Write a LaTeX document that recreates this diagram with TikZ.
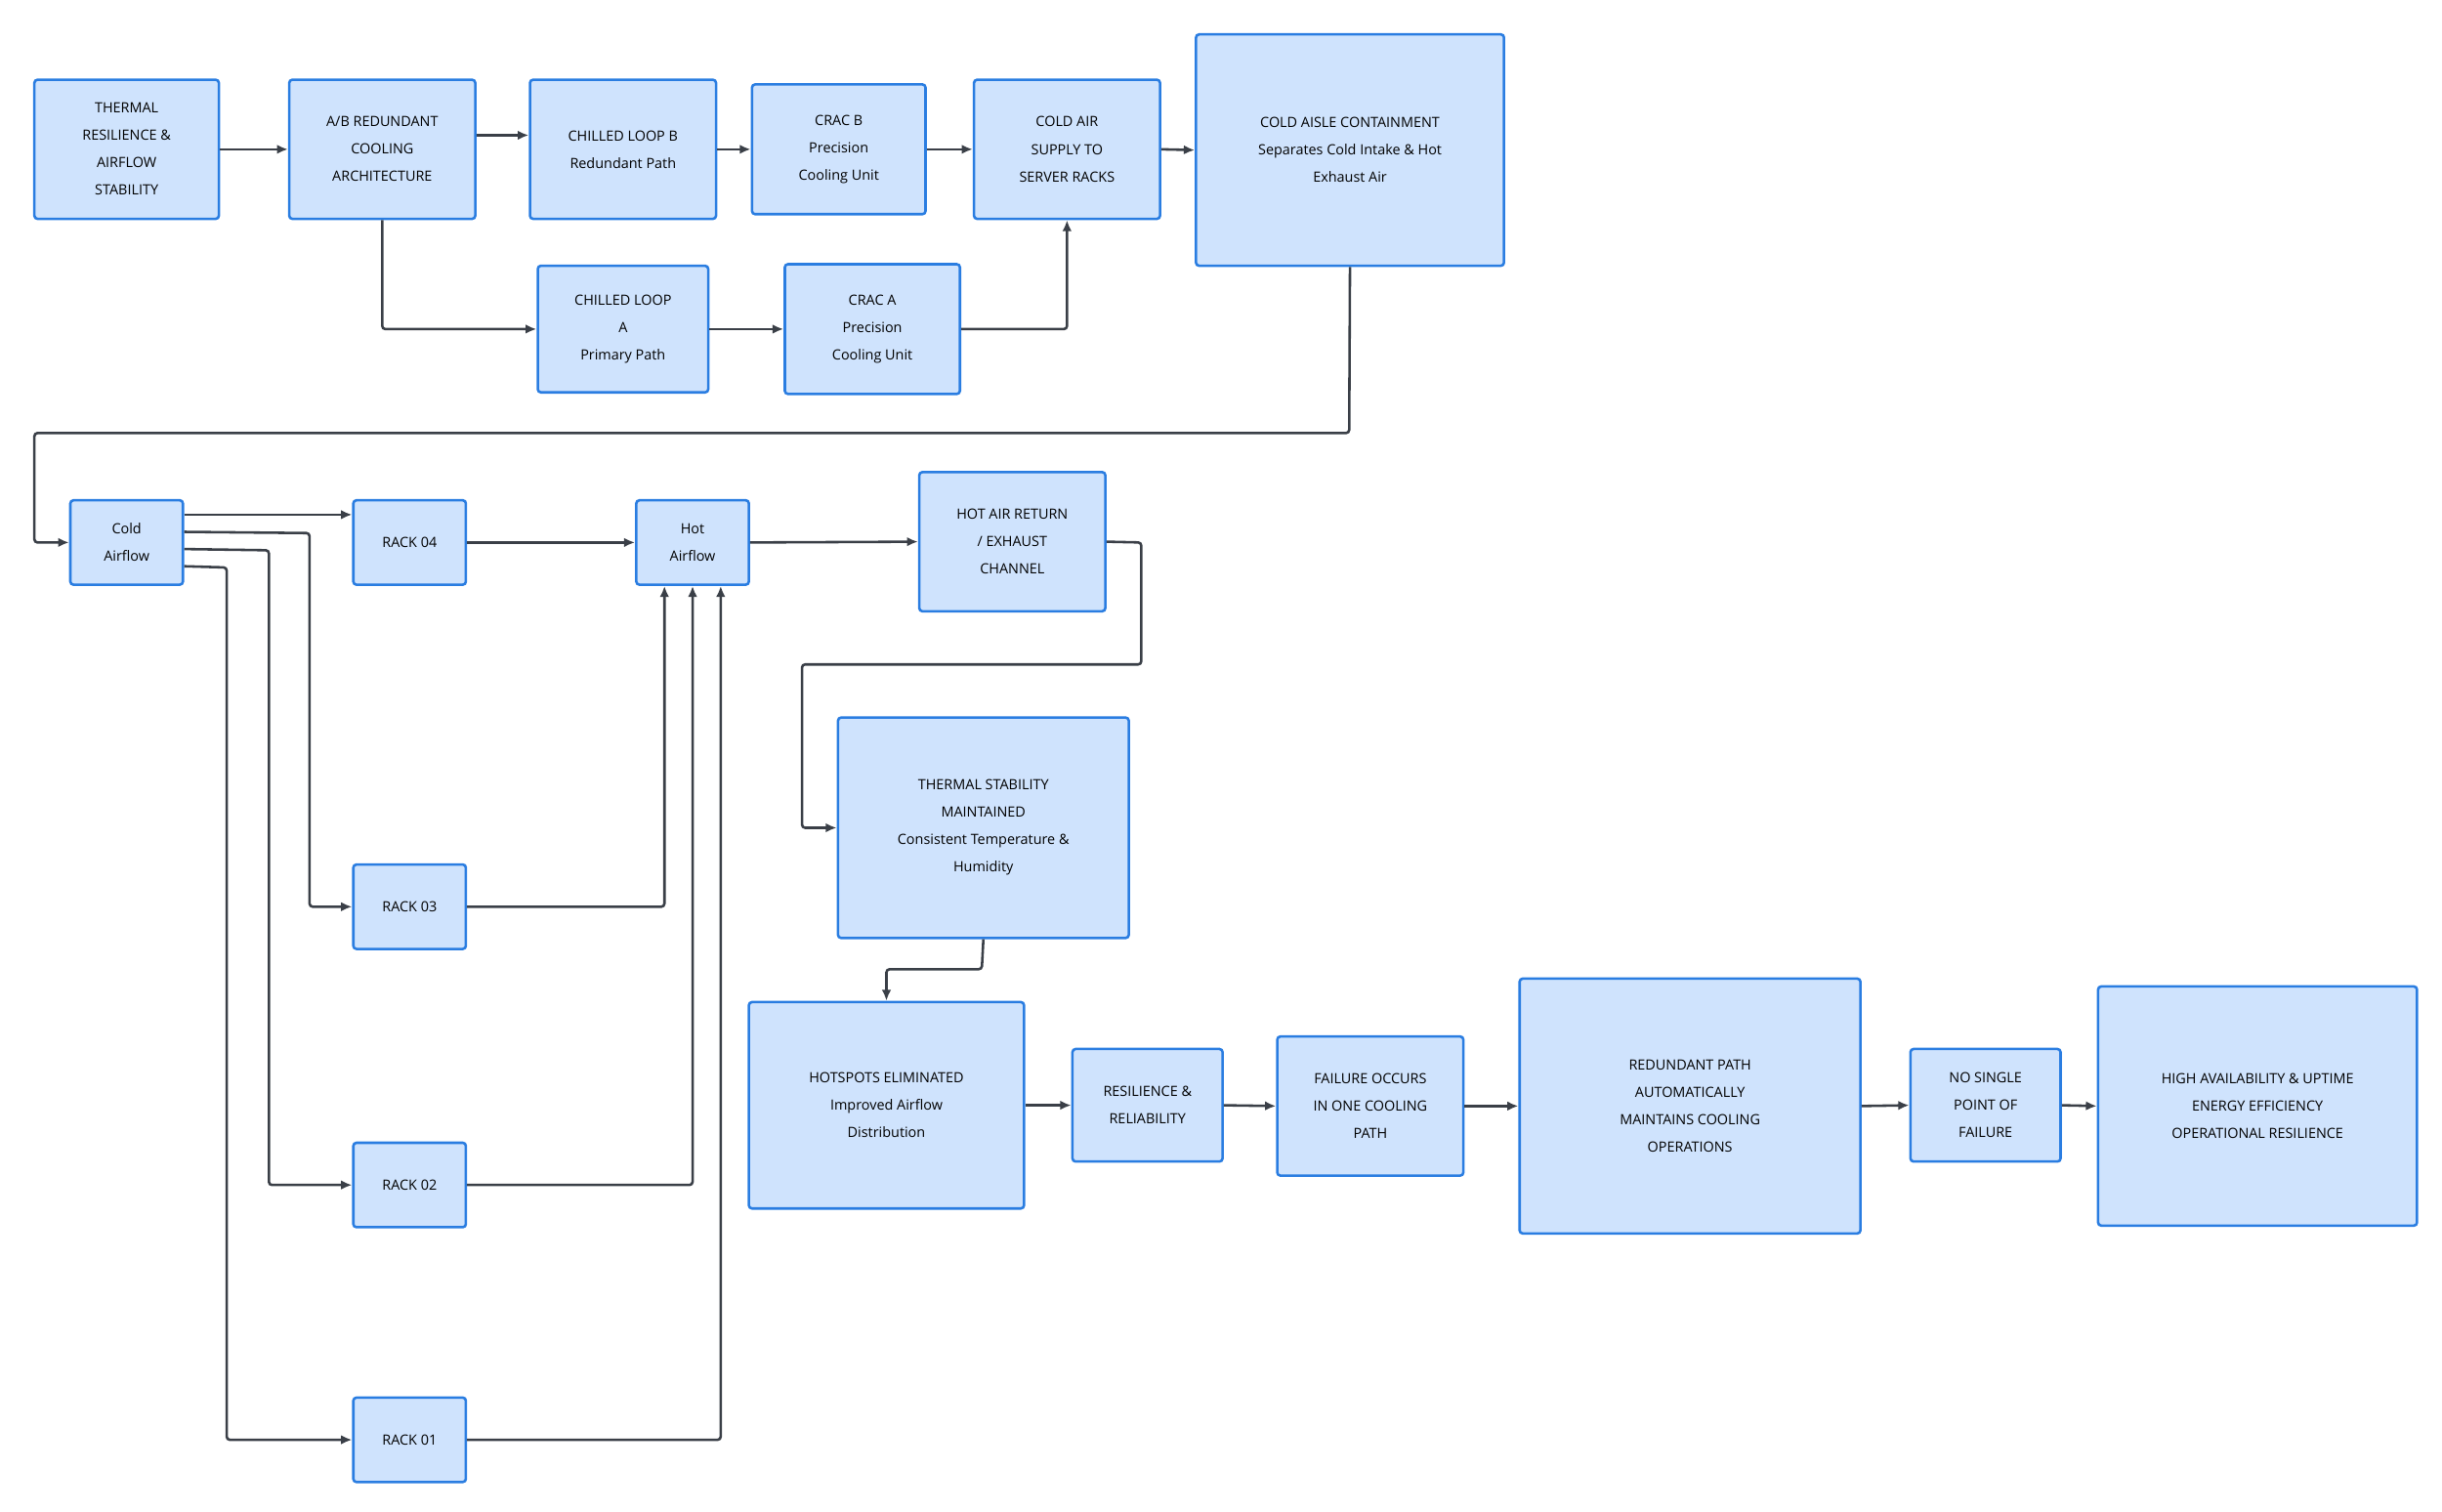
\documentclass[tikz,border=0pt]{standalone}
\usepackage{fontspec}
\setmainfont{Open Sans}
\usetikzlibrary{arrows.meta,calc}
\definecolor{bfill}{HTML}{CFE3FD}
\definecolor{bdraw}{HTML}{2A7DE1}
\definecolor{lcol}{HTML}{3A3F47}
\tikzset{
 box/.style={draw=bdraw,fill=bfill,line width=1.6pt,rounded corners=2pt,align=center,inner sep=2pt,
   font=\fontsize{9}{17.5}\selectfont,text=black},
 arr/.style={draw=lcol,line width=1.6pt,-{Latex[length=7pt,width=6pt]},rounded corners=2pt}
}
\newcommand\bx[6]{\node[box,minimum width={(#4-#2)*1pt},minimum height={(#5-#3)*1pt}] (#1) at ({(#2+#4)/2},{(#3+#5)/2}) {#6};}
\begin{document}
\begin{tikzpicture}[x=1pt,y=-1pt]
\useasboundingbox[fill=white] (0,0) rectangle (1562,967);
\bx{T}{22}{51}{140}{140}{THERMAL\\RESILIENCE \&\\AIRFLOW\\STABILITY}
\bx{AB}{185}{51}{304}{140}{A/B REDUNDANT\\COOLING\\ARCHITECTURE}
\bx{CLB}{339}{51}{458}{140}{CHILLED LOOP B\\Redundant Path}
\bx{CRACB}{481}{54}{592}{137}{CRAC B\\Precision\\Cooling Unit}
\bx{CAS}{623}{51}{742}{140}{COLD AIR\\SUPPLY TO\\SERVER RACKS}
\bx{CAC}{765}{22}{962}{170}{COLD AISLE CONTAINMENT\\Separates Cold Intake \& Hot\\Exhaust Air}
\bx{CLA}{344}{170}{453}{251}{CHILLED LOOP\\A\\Primary Path}
\bx{CRACA}{502}{169}{614}{252}{CRAC A\\Precision\\Cooling Unit}
\bx{Cold}{45}{320}{117}{374}{Cold\\Airflow}
\bx{R04}{226}{320}{298}{374}{RACK 04}
\bx{Hot}{407}{320}{479}{374}{Hot\\Airflow}
\bx{HAR}{588}{302}{707}{391}{HOT AIR RETURN\\/ EXHAUST\\CHANNEL}
\bx{TSM}{536}{459}{722}{600}{THERMAL STABILITY\\MAINTAINED\\Consistent Temperature \&\\Humidity}
\bx{R03}{226}{553}{298}{607}{RACK 03}
\bx{R02}{226}{731}{298}{785}{RACK 02}
\bx{R01}{226}{894}{298}{948}{RACK 01}
\bx{HE}{479}{641}{655}{773}{HOTSPOTS ELIMINATED\\Improved Airflow\\Distribution}
\bx{RR}{686}{671}{782}{743}{RESILIENCE \&\\RELIABILITY}
\bx{FO}{817}{663}{936}{752}{FAILURE OCCURS\\IN ONE COOLING\\PATH}
\bx{RP}{972}{626}{1190}{789}{REDUNDANT PATH\\AUTOMATICALLY\\MAINTAINS COOLING\\OPERATIONS}
\bx{NS}{1222}{671}{1318}{743}{NO SINGLE\\POINT OF\\FAILURE}
\bx{HA}{1342}{631}{1546}{784}{HIGH AVAILABILITY \& UPTIME\\ENERGY EFFICIENCY\\OPERATIONAL RESILIENCE}

\draw[arr] (T.east) -- (AB.west);
\draw[arr] ([yshift=9pt]AB.east) -- ([yshift=9pt]CLB.west);
\draw[arr] (AB.south) |- (CLA.west);
\draw[arr] (CLB.east) -- (CRACB.west);
\draw[arr] (CRACB.east) -- (CAS.west);
\draw[arr] (CLA.east) -- (CRACA.west);
\draw[arr] (CRACA.east) -| (CAS.south);
\draw[arr] (CAS.east) -- (CAC.west);
\draw[arr] (CAC.south) -- (863,277) -- (22,277) |- (Cold.west);
\draw[arr] ([yshift=-10pt]Cold.north east) -- ([yshift=-10pt]R04.north west);
\draw[arr] ([yshift=-21pt]Cold.north east) -- (198,341) |- (R03.west);
\draw[arr] ([yshift=-32pt]Cold.north east) -- (172,352) |- (R02.west);
\draw[arr] ([yshift=-43pt]Cold.north east) -- (145,363) |- (R01.west);
\draw[arr] (R04.east) -- (Hot.west);
\draw[arr] (R03.east) -| ([xshift=-18pt]Hot.south);
\draw[arr] (R02.east) -| (Hot.south);
\draw[arr] (R01.east) -| ([xshift=18pt]Hot.south);
\draw[arr] (Hot.east) -- (HAR.west);
\draw[arr] (HAR.east) -- (730,347) -- (730,425) -- (513,425) |- (TSM.west);
\draw[arr] (TSM.south) -- (628,620) -| (HE.north);
\draw[arr] (HE.east) -- (RR.west);
\draw[arr] (RR.east) -- (FO.west);
\draw[arr] (FO.east) -- (RP.west);
\draw[arr] (RP.east) -- (NS.west);
\draw[arr] (NS.east) -- (HA.west);
\end{tikzpicture}
\end{document}
